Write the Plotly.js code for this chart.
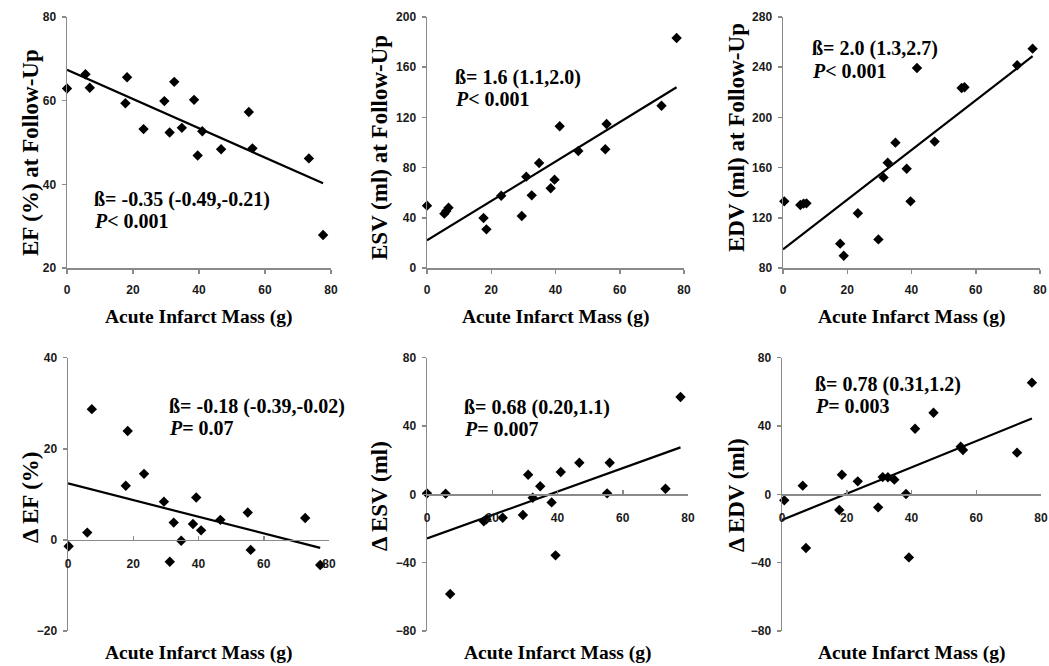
<!DOCTYPE html>
<html>
<head>
<meta charset="utf-8">
<script src="https://cdn.plot.ly/plotly-3.0.1.min.js"></script>
<style>html,body{margin:0;padding:0;background:#fff;}#chart{width:1049px;height:666px;}</style>
</head>
<body>
<div id="chart"></div>
<script>
// ---------- DATA ----------
const massEF   = [0, 5.6, 6.9, 17.7, 18.2, 23.2, 29.5, 31.1, 32.5, 34.8, 38.5, 39.6, 41.0, 46.7, 55.1, 56.2, 73.3, 77.6];
const efFollow = [62.9, 66.3, 63.1, 59.4, 65.6, 53.2, 59.9, 52.4, 64.5, 53.5, 60.2, 46.9, 52.7, 48.4, 57.3, 48.6, 46.2, 27.9];

const massESV   = [0, 5.4, 6.0, 6.7, 17.6, 18.5, 23.1, 29.5, 30.9, 32.6, 34.9, 38.5, 39.7, 41.3, 47.1, 55.5, 55.9, 73.0, 77.7];
const esvFollow = [49.7, 43.3, 45.4, 48.1, 39.8, 30.8, 57.6, 41.4, 72.8, 57.9, 83.7, 63.5, 70.4, 112.9, 93.2, 94.6, 114.7, 129.3, 183.3];

const massEDV   = [0.4, 5.4, 6.4, 7.3, 17.8, 18.9, 23.3, 29.7, 31.3, 32.6, 35.0, 38.5, 39.7, 41.7, 47.2, 55.6, 56.5, 72.9, 77.7];
const edvFollow = [133.1, 130.2, 131.3, 131.5, 99.4, 89.8, 123.6, 102.8, 152.2, 163.9, 179.9, 159.1, 133.1, 239.4, 180.7, 223.4, 224.0, 241.6, 254.8];

const massDEF = [0.2, 5.9, 7.3, 17.7, 18.3, 23.3, 29.4, 31.2, 32.4, 34.7, 38.3, 39.3, 40.8, 46.7, 55.1, 56.0, 72.7, 77.3];
const deltaEF = [-1.4, 1.6, 28.7, 11.9, 23.9, 14.5, 8.4, -4.8, 3.8, -0.2, 3.5, 9.3, 2.1, 4.4, 6.0, -2.2, 4.8, -5.5];

const massDESV = [0, 5.7, 7.1, 17.4, 18.2, 23.2, 29.4, 31.0, 32.4, 34.7, 38.2, 39.4, 41.0, 46.7, 55.2, 56.0, 73.1, 77.7];
const deltaESV = [0.6, 0.4, -58.3, -15.8, -14.6, -13.7, -12.1, 11.5, -2.0, 4.7, -4.7, -35.7, 13.1, 18.5, 0.6, 18.5, 3.3, 57.0];

const massDEDV = [0.7, 6.4, 7.4, 17.7, 18.5, 23.4, 29.7, 31.1, 32.7, 34.7, 38.3, 39.2, 41.1, 46.8, 55.2, 55.9, 72.6, 77.2];
const deltaEDV = [-3.5, 5.1, -31.4, -9.2, 11.5, 7.6, -7.6, 10.1, 10.0, 8.6, 0.2, -36.9, 38.4, 47.8, 27.9, 26.0, 24.4, 65.4];

// regression fits (intercept, slope)
const fitIntercepts = [67.4, 22.0, 94.9, 12.4, -25.8, -15.0];
const fitSlopes     = [-0.35, 1.57, 1.98, -0.183, 0.686, 0.77];

const yTitles = ["EF (%) at Follow-Up", "ESV (ml) at Follow-Up", "EDV (ml) at Follow-Up",
                 "\u0394 EF (%)", "\u0394 ESV (ml)", "\u0394 EDV (ml)"];
const xTitle = "Acute Infarct Mass (g)";
const betaTexts = ["\u00df= -0.35 (-0.49,-0.21)", "\u00df= 1.6 (1.1,2.0)", "\u00df= 2.0 (1.3,2.7)",
                   "\u00df= -0.18 (-0.39,-0.02)", "\u00df= 0.68 (0.20,1.1)", "\u00df= 0.78 (0.31,1.2)"];
const pTexts = ["<i>P</i>< 0.001", "<i>P</i>< 0.001", "<i>P</i>< 0.001",
                "<i>P</i>= 0.07", "<i>P</i>= 0.007", "<i>P</i>= 0.003"];

const xSeries = [massEF, massESV, massEDV, massDEF, massDESV, massDEDV];
const ySeries = [efFollow, esvFollow, edvFollow, deltaEF, deltaESV, deltaEDV];

// ---------- LAYOUT GEOMETRY (pixels) ----------
const W = 1049, H = 666;
const fx = px => px / W;
const fy = py => 1 - py / H;

const panels = [
  {xpx:[67,331],  ypx:[17,268],    yr:[20,80],   dt:20, bottom:false, ytx:30,  yty:153, sx:92,  sy:199, py:221},
  {xpx:[427,684], ypx:[17,268],    yr:[0,200],   dt:40, bottom:false, ytx:379, yty:148, sx:453, sy:77,  py:99},
  {xpx:[783,1040],ypx:[17,268],    yr:[80,280],  dt:40, bottom:false, ytx:736, yty:138, sx:810, sy:49,  py:71},
  {xpx:[68,329],  ypx:[357.7,631], yr:[-20,40],  dt:20, bottom:true,  ytx:30,  yty:497, sx:167, sy:406, py:428},
  {xpx:[427,688], ypx:[357.7,631], yr:[-80,80],  dt:40, bottom:true,  ytx:379, yty:496, sx:462, sy:407, py:429},
  {xpx:[782,1041],ypx:[357.7,631], yr:[-80,80],  dt:40, bottom:true,  ytx:736, yty:495, sx:813, sy:384, py:406}
];

const axisColor = '#8a8a8a';
const tickFont = {family:'Liberation Sans', size:12, color:'#1a1a1a', weight:700};
const serif = 'Liberation Serif';

const traces = [];
const layout = {
  width: W, height: H,
  margin: {l:0, r:0, t:0, b:0},
  paper_bgcolor: '#ffffff', plot_bgcolor: 'rgba(0,0,0,0)',
  showlegend: false,
  annotations: []
};

panels.forEach((p, i) => {
  const n = i + 1;
  const xa = 'x' + (n === 1 ? '' : n), ya = 'y' + (n === 1 ? '' : n);
  const xKey = 'xaxis' + (n === 1 ? '' : n), yKey = 'yaxis' + (n === 1 ? '' : n);
  const xs = xSeries[i], ys = ySeries[i];

  traces.push({
    type:'scatter', mode:'markers', x: xs, y: ys, xaxis: xa, yaxis: ya,
    marker:{symbol:'diamond', size:8, color:'#000000'}, cliponaxis:false, hoverinfo:'x+y'
  });
  const xEnd = Math.max(...xs);
  traces.push({
    type:'scatter', mode:'lines', x:[0, xEnd],
    y:[fitIntercepts[i], fitIntercepts[i] + fitSlopes[i]*xEnd],
    xaxis: xa, yaxis: ya, line:{color:'#000000', width:2.2}, cliponaxis:false, hoverinfo:'skip'
  });

  const xdom = [fx(p.xpx[0]), fx(p.xpx[1])];
  const ydom = [fy(p.ypx[1]), fy(p.ypx[0])];
  const xaxis = {
    domain: xdom, range:[0,80], dtick:20, tick0:0,
    showline:true, linecolor:axisColor, linewidth:1.5,
    ticks: p.bottom ? 'inside' : 'outside', ticklen:4, tickcolor:axisColor, tickwidth:1.5,
    showgrid:false, zeroline:false, tickfont: tickFont, fixedrange:true,
    ticklabeloverflow:'allow'
  };
  if (p.bottom) {
    const pos = ydom[0] + (0 - p.yr[0]) / (p.yr[1] - p.yr[0]) * (ydom[1] - ydom[0]);
    xaxis.anchor = 'free';
    xaxis.position = pos;
    xaxis.ticklabelstandoff = 12;
  } else {
    xaxis.anchor = ya;
    xaxis.ticklabelstandoff = 6;
  }
  layout[xKey] = xaxis;
  layout[yKey] = {
    domain: ydom, range: p.yr, dtick: p.dt, tick0: p.yr[0], anchor: xa,
    showline:true, linecolor:axisColor, linewidth:1.5,
    ticks:'outside', ticklen:4, tickcolor:axisColor, tickwidth:1.5,
    showgrid:false, zeroline:false, tickfont: tickFont, fixedrange:true, ticklabelstandoff:3
  };

  // axis titles
  layout.annotations.push({
    xref:'paper', yref:'paper', x: fx(p.ytx), y: fy(p.yty), xanchor:'center', yanchor:'middle',
    text: '<b>' + yTitles[i] + '</b>', textangle:-90, showarrow:false,
    font:{family:serif, size:23, color:'#000'}
  });
  layout.annotations.push({
    xref:'paper', yref:'paper', x: (xdom[0]+xdom[1])/2, y: fy(p.bottom ? 653 : 317),
    xanchor:'center', yanchor:'middle', text: '<b>' + xTitle + '</b>', showarrow:false,
    font:{family:serif, size:19.5, color:'#000'}
  });
  // statistics
  layout.annotations.push({
    xref:'paper', yref:'paper', x: fx(p.sx), y: fy(p.sy), xanchor:'left', yanchor:'middle',
    text: '<b>' + betaTexts[i] + '</b>', showarrow:false,
    font:{family:serif, size:20, color:'#000'}
  });
  layout.annotations.push({
    xref:'paper', yref:'paper', x: fx(p.sx), y: fy(p.py), xanchor:'left', yanchor:'middle',
    text: '<b>' + pTexts[i] + '</b>', showarrow:false,
    font:{family:serif, size:20, color:'#000'}
  });
});

Plotly.newPlot('chart', traces, layout, {displayModeBar:false, staticPlot:true});
</script>
</body>
</html>
